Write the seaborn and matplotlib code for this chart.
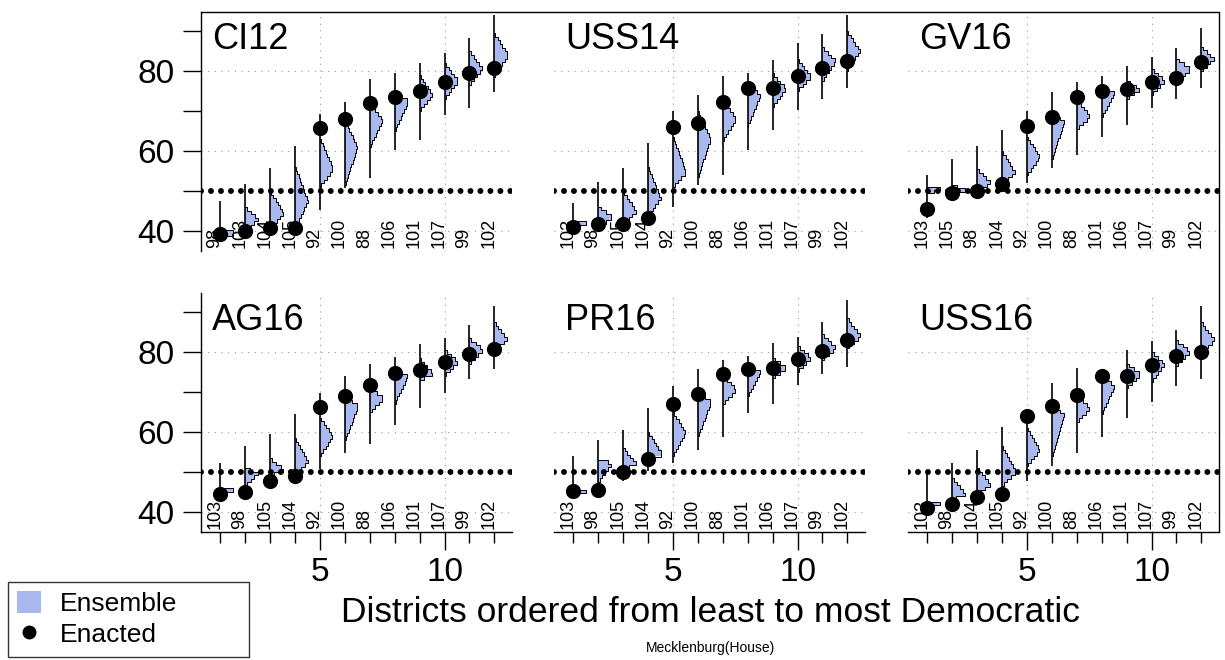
import numpy as np
import pandas as pd
import matplotlib
matplotlib.use("Agg")
import matplotlib.pyplot as plt
from matplotlib.lines import Line2D
from matplotlib.patches import Patch
import seaborn as sns

sns.set_theme(style="white")
plt.rcParams["font.family"] = ["Liberation Sans", "DejaVu Sans"]
plt.rcParams["text.color"] = "black"
plt.rcParams["xtick.color"] = "black"
plt.rcParams["ytick.color"] = "black"

# ------------------------------------------------------------
# Data
# ------------------------------------------------------------
panels = ["CI12", "USS14", "GV16", "AG16", "PR16", "USS16"]
positions = list(range(1, 13))

district_labels = [
    ["98", "103", "104", "105", "92", "100", "88", "106", "101", "107", "99", "102"],
    ["103", "98", "105", "104", "92", "100", "88", "106", "101", "107", "99", "102"],
    ["103", "105", "98", "104", "92", "100", "88", "101", "106", "107", "99", "102"],
    ["103", "98", "105", "104", "92", "100", "88", "106", "101", "107", "99", "102"],
    ["103", "98", "105", "104", "92", "100", "88", "101", "106", "107", "99", "102"],
    ["103", "98", "104", "105", "92", "100", "88", "106", "101", "107", "99", "102"],
]

# enacted plan vote share (black dots)
enacted = [
    [39.2, 40.0, 40.8, 40.8, 65.7, 68.0, 72.1, 73.4, 75.1, 77.3, 79.6, 80.8],
    [40.9, 41.8, 41.8, 43.2, 65.9, 66.9, 72.3, 75.7, 75.7, 78.8, 80.8, 82.6],
    [45.4, 49.6, 50.1, 51.7, 66.3, 68.4, 73.6, 75.1, 75.4, 77.2, 78.3, 82.2],
    [44.4, 45.0, 47.8, 49.0, 66.3, 69.0, 71.7, 74.8, 75.4, 77.5, 79.4, 80.7],
    [45.3, 45.5, 50.1, 53.2, 66.9, 69.6, 74.4, 75.8, 76.1, 78.2, 80.3, 82.9],
    [41.1, 41.9, 43.8, 44.4, 64.0, 66.6, 69.2, 74.0, 74.0, 76.8, 79.0, 80.1],
]

# ensemble range (whisker min / max)
ens_min = [
    [38.2, 39.4, 40.2, 40.3, 45.3, 50.7, 53.2, 60.3, 62.8, 69.0, 70.7, 74.8],
    [39.4, 40.5, 41.0, 42.7, 46.1, 51.5, 54.0, 60.3, 65.3, 70.3, 73.0, 75.7],
    [43.2, 48.5, 49.5, 50.5, 51.9, 55.7, 59.0, 63.6, 66.5, 70.7, 73.0, 75.7],
    [42.8, 44.5, 47.0, 47.0, 50.7, 54.8, 56.9, 61.8, 65.9, 69.8, 73.2, 75.7],
    [43.2, 45.0, 47.8, 50.3, 52.3, 55.5, 58.8, 64.8, 67.0, 71.8, 74.6, 76.3],
    [39.8, 41.0, 43.0, 43.5, 47.8, 51.5, 54.7, 58.8, 63.6, 67.5, 71.5, 73.2],
]
ens_max = [
    [47.5, 51.7, 55.7, 61.3, 69.2, 72.3, 77.9, 79.6, 82.1, 84.4, 88.3, 94.0],
    [46.9, 52.3, 55.7, 61.9, 70.0, 74.0, 78.8, 79.6, 82.8, 86.9, 89.2, 94.0],
    [54.0, 58.0, 61.3, 65.3, 70.0, 74.8, 77.3, 78.8, 81.3, 83.6, 85.8, 90.7],
    [52.3, 56.5, 59.4, 64.4, 69.8, 74.0, 77.0, 78.8, 81.9, 83.6, 86.8, 91.5],
    [54.0, 58.0, 60.4, 66.0, 71.5, 75.7, 77.9, 79.0, 82.2, 83.8, 87.5, 93.0],
    [50.0, 52.3, 55.6, 61.3, 65.0, 72.3, 76.0, 74.8, 80.4, 82.8, 85.6, 91.6],
]

# bulk of the ensemble histogram (lower edge, mode, upper edge)
body_lo = [
    [38.8, 39.8, 40.3, 40.5, 51.0, 51.5, 61.0, 65.0, 70.0, 73.0, 76.5, 78.5],
    [40.5, 41.0, 41.5, 44.0, 51.0, 53.5, 62.5, 66.0, 71.0, 75.0, 77.5, 80.0],
    [49.5, 49.0, 50.0, 51.5, 54.0, 58.0, 65.5, 68.5, 73.0, 74.0, 77.0, 80.0],
    [45.0, 46.5, 49.0, 49.5, 54.0, 58.0, 65.0, 67.0, 73.0, 74.0, 77.0, 81.0],
    [44.8, 47.5, 51.0, 53.0, 54.0, 59.0, 67.0, 69.0, 73.5, 75.0, 78.0, 81.0],
    [41.7, 43.0, 44.5, 46.5, 51.5, 54.0, 62.5, 64.5, 71.0, 72.5, 76.5, 80.0],
]
body_mode = [
    [39.5, 43.0, 44.5, 47.5, 55.5, 61.0, 68.0, 72.5, 74.0, 77.5, 80.5, 84.0],
    [41.8, 43.5, 45.0, 48.0, 54.5, 63.0, 68.0, 74.0, 75.5, 78.5, 82.5, 85.0],
    [50.5, 50.3, 52.0, 54.5, 58.5, 67.5, 68.5, 74.5, 75.5, 77.5, 80.5, 83.0],
    [45.5, 49.8, 50.5, 52.5, 59.0, 66.5, 68.5, 74.0, 74.5, 77.5, 80.5, 83.0],
    [45.2, 52.3, 52.0, 54.5, 60.0, 67.5, 70.5, 75.0, 76.0, 78.5, 81.0, 84.0],
    [42.1, 44.5, 47.0, 50.0, 55.5, 64.5, 66.0, 71.5, 74.5, 77.0, 80.0, 83.0],
]
body_hi = [
    [40.2, 46.0, 50.0, 56.0, 63.0, 67.5, 71.5, 75.0, 79.0, 82.0, 85.0, 89.5],
    [42.5, 46.0, 50.0, 56.0, 63.5, 70.0, 72.5, 77.0, 79.5, 83.0, 86.0, 90.0],
    [51.0, 51.5, 55.5, 60.0, 63.5, 69.5, 73.0, 76.0, 77.5, 80.5, 83.0, 86.0],
    [46.0, 51.0, 53.5, 58.5, 63.5, 69.0, 71.0, 75.5, 78.5, 80.5, 83.5, 87.5],
    [45.6, 53.0, 56.0, 60.0, 65.0, 70.0, 74.5, 76.5, 78.5, 81.5, 84.5, 88.5],
    [42.5, 48.5, 51.0, 56.5, 61.0, 66.5, 69.0, 74.5, 77.0, 80.0, 83.0, 87.5],
]

ENS_COLOR = "#a9b9ef"

# long table of enacted values for seaborn
rows = []
for p, name in enumerate(panels):
    for i, pos in enumerate(positions):
        rows.append({"panel": name, "pos": pos, "vote": enacted[p][i]})
df = pd.DataFrame(rows)


def half_violin(ax, x, lo, mode, hi, width=0.5, binw=0.9):
    # stepped one-sided histogram outline to the right of the whisker
    n = max(1, int(round((hi - lo) / binw)))
    edges = np.linspace(lo, hi, n + 1)
    mids = (edges[:-1] + edges[1:]) / 2
    w = np.where(mids <= mode,
                 (mids - lo) / max(mode - lo, 1e-6),
                 (hi - mids) / max(hi - mode, 1e-6))
    w = np.clip(w, 0.05, None)
    w = width * w / w.max()
    ys = np.concatenate([[lo], np.repeat(edges, 2)[1:-1], [hi]])
    xs = np.concatenate([[0], np.repeat(w, 2), [0]])
    ax.fill_betweenx(ys, x, x + xs, color=ENS_COLOR, lw=0, zorder=2)
    ax.plot(x + xs, ys, color="black", lw=0.7, zorder=3)


# ------------------------------------------------------------
# Figure layout
# ------------------------------------------------------------
fig = plt.figure(figsize=(12.25, 6.6), dpi=100)

col_x = [201 / 1225, 554 / 1225, 908 / 1225]
ax_w = 311 / 1225
row_y = [1 - 251 / 660, 1 - 532 / 660]
ax_h = 239 / 660

for p, name in enumerate(panels):
    r, c = divmod(p, 3)
    ax = fig.add_axes([col_x[c], row_y[r], ax_w, ax_h])
    ax.set_xlim(0.22, 12.71)
    ax.set_ylim(35, 94.75)

    # dotted reference grid
    for gy in [40, 60, 80]:
        ax.axhline(gy, color="#9a9a9a", lw=0.8, ls=(0, (1, 5)), zorder=0)
    for gx in [5, 10]:
        ax.axvline(gx, color="#9a9a9a", lw=0.8, ls=(0, (1, 5)), zorder=0)

    for i, pos in enumerate(positions):
        ax.vlines(pos, ens_min[p][i], ens_max[p][i], color="black", lw=1.2, zorder=3)
        half_violin(ax, pos, body_lo[p][i], body_mode[p][i], body_hi[p][i])
        ax.text(pos - 0.22, 35.7, district_labels[p][i], rotation=90,
                ha="center", va="bottom", fontsize=13, zorder=4)

    # 50% line
    ax.axhline(50, color="black", lw=4.3, ls=(0, (0.001, 1.67)),
               dash_capstyle="round", zorder=4)

    sns.scatterplot(data=df[df["panel"] == name], x="pos", y="vote",
                    color="black", s=120, linewidth=0, legend=False,
                    ax=ax, zorder=5)
    ax.set_xlabel("")
    ax.set_ylabel("")

    ax.text(0.035, 0.885, name, transform=ax.transAxes, fontsize=26,
            ha="left", va="center")

    for side in ["top", "right", "left", "bottom"]:
        ax.spines[side].set_visible(False)

    # y axis on the left column only
    if c == 0:
        ax.spines["left"].set_visible(True)
        ax.spines["left"].set_color("black")
        ax.spines["left"].set_linewidth(1)
        ax.set_yticks([40, 50, 60, 70, 80, 90])
        ax.set_yticklabels(["40", "", "60", "", "80", ""])
        ax.tick_params(axis="y", left=True, length=13, width=1, color="black",
                       labelsize=24, pad=6, direction="out")
    else:
        ax.set_yticks([])

    # x axis on the bottom row only
    if r == 1:
        ax.spines["bottom"].set_visible(True)
        ax.spines["bottom"].set_color("black")
        ax.spines["bottom"].set_linewidth(1)
        ax.set_xticks([5, 10])
        ax.set_xticklabels(["5", "10"])
        ax.set_xticks(positions, minor=True)
        ax.tick_params(axis="x", which="major", bottom=True, length=13, width=1,
                       color="black", labelsize=24, pad=5, direction="out")
        ax.tick_params(axis="x", which="minor", bottom=True, length=8, width=1,
                       color="black", direction="out")
    else:
        ax.set_xticks([])
    ax.set_facecolor("none")

# outer frame: top and right edges
top_y = 1 - 12 / 660
right_x = 1219 / 1225
fig.add_artist(Line2D([col_x[0], right_x], [top_y, top_y],
                      transform=fig.transFigure, color="black", lw=1))
fig.add_artist(Line2D([right_x, right_x], [top_y, row_y[1]],
                      transform=fig.transFigure, color="black", lw=1))

fig.text(0.580, 0.072, "Districts ordered from least to most Democratic",
         ha="center", va="center", fontsize=25.5)
fig.text(0.580, 0.018, "Mecklenburg(House)", ha="center", va="center", fontsize=10)

handles = [
    Patch(facecolor=ENS_COLOR, edgecolor="none"),
    Line2D([], [], marker="o", color="black", ls="none", markersize=9),
]
leg = fig.legend(handles, ["Ensemble", "Enacted"], loc="lower left",
                 bbox_to_anchor=(0.0065, 0.005, 0.197, 0.11), mode="expand",
                 fontsize=19, frameon=True,
                 fancybox=False, edgecolor="black", handlelength=0.9,
                 handleheight=0.9, handletextpad=0.7, borderpad=0.35,
                 labelspacing=0.25, borderaxespad=0)
leg.get_frame().set_linewidth(1)

fig.savefig("out.png", dpi=100)
